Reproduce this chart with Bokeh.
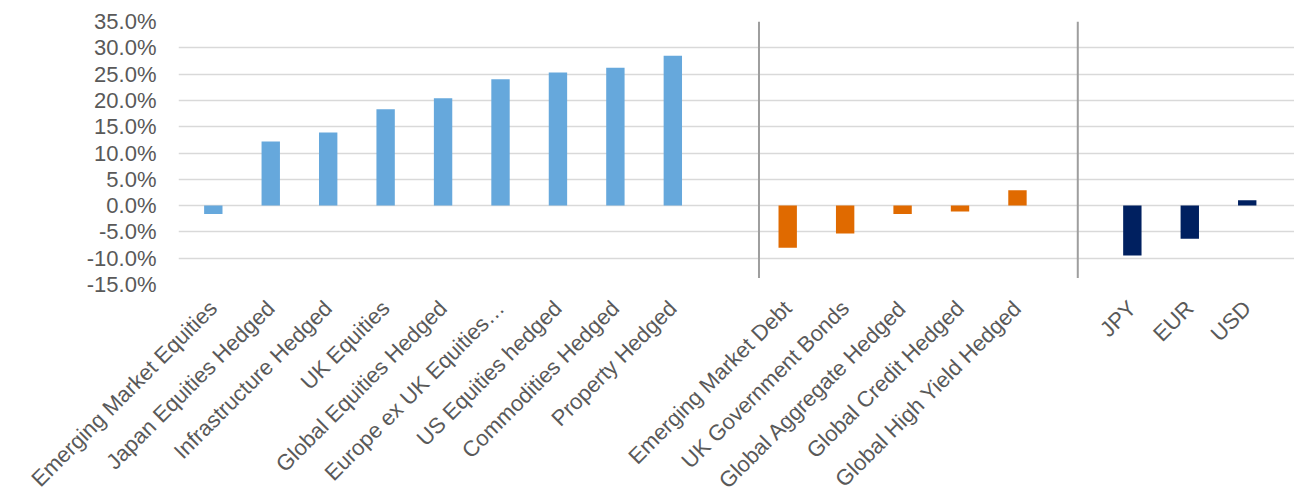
import math
from bokeh.plotting import figure
from bokeh.models import ColumnDataSource, FixedTicker, PrintfTickFormatter, Range1d
from bokeh.embed import file_html
from bokeh.resources import INLINE

# ---- data ----
equity_labels = ["Emerging Market Equities", "Japan Equities Hedged", "Infrastructure Hedged",
                 "UK Equities", "Global Equities Hedged", "Europe ex UK Equities\u2026",
                 "US Equities hedged", "Commodities Hedged", "Property Hedged"]
equity_values = [-1.6, 12.2, 13.9, 18.3, 20.4, 24.0, 25.3, 26.2, 28.5]

bond_labels = ["Emerging Market Debt", "UK Government Bonds", "Global Aggregate Hedged",
               "Global Credit Hedged", "Global High Yield Hedged"]
bond_values = [-8.0, -5.3, -1.6, -1.1, 2.9]

currency_labels = ["JPY", "EUR", "USD"]
currency_values = [-9.5, -6.3, 1.0]

y_ticks = [-15, -10, -5, 0, 5, 10, 15, 20, 25, 30, 35]

# ---- styles ----
group_colors = ["#66A8DC", "#E06A00", "#002060"]
text_color = "#595959"
font = "Liberation Sans"

# build slot positions: one empty slot between groups
groups = [(equity_labels, equity_values), (bond_labels, bond_values), (currency_labels, currency_values)]
xs, tops, cols, labels = [], [], [], []
slot = 0
for gi, (labs, vals) in enumerate(groups):
    for lab, v in zip(labs, vals):
        xs.append(slot)
        tops.append(v)
        cols.append(group_colors[gi])
        labels.append(lab)
        slot += 1
    slot += 1

src = ColumnDataSource(dict(x=xs, top=tops, color=cols))

p = figure(frame_width=1116, frame_height=263, output_backend="svg", toolbar_location=None,
           x_range=Range1d(-0.606, 18.823), y_range=Range1d(-15, 35),
           min_border_left=178, min_border_right=0, min_border_top=21, min_border_bottom=0)
p.title.visible = False
p.outline_line_color = None
p.background_fill_color = "white"
p.border_fill_color = "white"

p.vbar(x="x", top="top", bottom=0, width=0.32, color="color", line_color=None, source=src)

# group separators
sep_x = [9.5, 15.05]
p.segment(x0=sep_x, x1=sep_x, y0=[35, 35], y1=[-13.75, -13.75], line_color="#9E9E9E", line_width=2)

# axes
p.xgrid.visible = False
p.ygrid.ticker = FixedTicker(ticks=y_ticks)
p.ygrid.grid_line_color = "#D9D9D9"
p.ygrid.grid_line_width = 1.5

p.yaxis.ticker = FixedTicker(ticks=y_ticks)
p.yaxis.formatter = PrintfTickFormatter(format="%.1f%%")
p.yaxis.axis_line_color = None
p.yaxis.major_tick_line_color = None
p.yaxis.minor_tick_line_color = None
p.yaxis.major_tick_out = 0
p.yaxis.minor_tick_out = 0
p.yaxis.major_label_standoff = 22
p.yaxis.major_label_text_font = font
p.yaxis.major_label_text_font_size = "22px"
p.yaxis.major_label_text_color = text_color

p.xaxis.ticker = FixedTicker(ticks=xs)
p.xaxis.major_label_overrides = {x: lab for x, lab in zip(xs, labels)}
p.xaxis.major_label_orientation = math.pi / 4
p.xaxis.axis_line_color = None
p.xaxis.major_tick_line_color = None
p.xaxis.minor_tick_line_color = None
p.xaxis.major_tick_out = 0
p.xaxis.minor_tick_out = 0
p.xaxis.major_label_standoff = 20
p.xaxis.major_label_text_font = font
p.xaxis.major_label_text_font_size = "22px"
p.xaxis.major_label_text_color = text_color

open("out.html", "w").write(file_html(p, INLINE))
